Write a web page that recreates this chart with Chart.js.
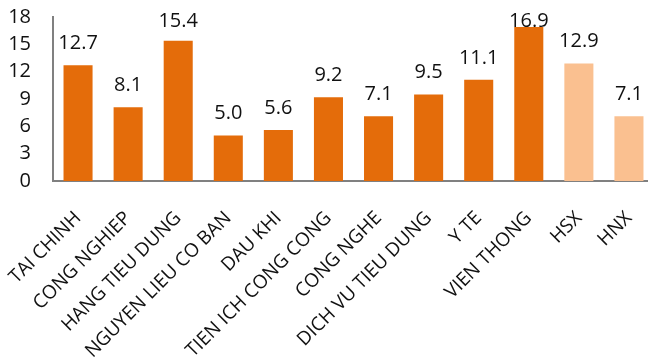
<!DOCTYPE html>
<html>
<head>
<meta charset="utf-8">
<script src="https://cdn.jsdelivr.net/npm/chart.js@4/dist/chart.umd.min.js"></script>
<style>
  html, body { margin: 0; padding: 0; background: #fff; overflow: hidden; }
  #wrap { width: 654px; height: 359px; }
</style>
</head>
<body>
<div id="wrap"><canvas id="peChart"></canvas></div>
<script>
// data
const categories = ['TAI CHINH', 'CONG NGHIEP', 'HANG TIEU DUNG', 'NGUYEN LIEU CO BAN', 'DAU KHI',
    'TIEN ICH CONG CONG', 'CONG NGHE', 'DICH VU TIEU DUNG', 'Y TE', 'VIEN THONG', 'HSX', 'HNX'];
const values = [12.7, 8.1, 15.4, 5.0, 5.6, 9.2, 7.1, 9.5, 11.1, 16.9, 12.9, 7.1];
const yTicks = [0, 3, 6, 9, 12, 15, 18];

const sectorColor = '#E46C0A';
const indexColor = '#FAC090';
const barColors = categories.map(c => (c === 'HSX' || c === 'HNX') ? indexColor : sectorColor);

const fontFamily = "'Open Sans', 'Noto Sans', sans-serif";

// draws the value above each bar
const valueLabels = {
    id: 'valueLabels',
    afterDatasetsDraw(chart) {
        const ctx = chart.ctx;
        const meta = chart.getDatasetMeta(0);
        ctx.save();
        ctx.font = '20px ' + fontFamily;
        ctx.fillStyle = '#111';
        ctx.textAlign = 'center';
        ctx.textBaseline = 'alphabetic';
        meta.data.forEach((bar, i) => {
            const y = Math.max(bar.y - 16, 27);
            ctx.fillText(values[i].toFixed(1), bar.x, y);
        });
        ctx.restore();
    }
};

function initChart() {
    const ctx = document.getElementById('peChart').getContext('2d');
    new Chart(ctx, {
        type: 'bar',
        data: {
            labels: categories,
            datasets: [{
                data: values,
                backgroundColor: barColors,
                barPercentage: 0.58,
                categoryPercentage: 1.0
            }]
        },
        options: {
            responsive: true,
            maintainAspectRatio: false,
            animation: false,
            layout: { padding: { top: 17, left: 0, right: 0, bottom: 0 } },
            plugins: {
                legend: { display: false },
                tooltip: { enabled: false }
            },
            scales: {
                x: {
                    grid: { display: false, drawTicks: false },
                    border: { display: true, color: '#808080', width: 2 },
                    ticks: {
                        autoSkip: false,
                        maxRotation: 45,
                        minRotation: 45,
                        padding: 26,
                        color: '#111',
                        font: { family: fontFamily, size: 19 }
                    },
                    afterFit(scale) {
                        scale.height = 178;
                        scale.paddingLeft = 0;
                        scale.paddingRight = 0;
                    }
                },
                y: {
                    min: 0,
                    max: 18,
                    afterBuildTicks(scale) { scale.ticks = yTicks.map(v => ({ value: v })); },
                    grid: { display: false, drawTicks: false },
                    border: { display: true, color: '#808080', width: 2 },
                    ticks: {
                        autoSkip: false,
                        padding: 22,
                        color: '#111',
                        font: { family: fontFamily, size: 20 }
                    },
                    afterFit(scale) {
                        scale.width = 53;
                        scale.paddingTop = 0;
                        scale.paddingBottom = 0;
                    }
                }
            }
        },
        plugins: [valueLabels]
    });
}

window.onload = () => {
    initChart();
};
</script>
</body>
</html>
